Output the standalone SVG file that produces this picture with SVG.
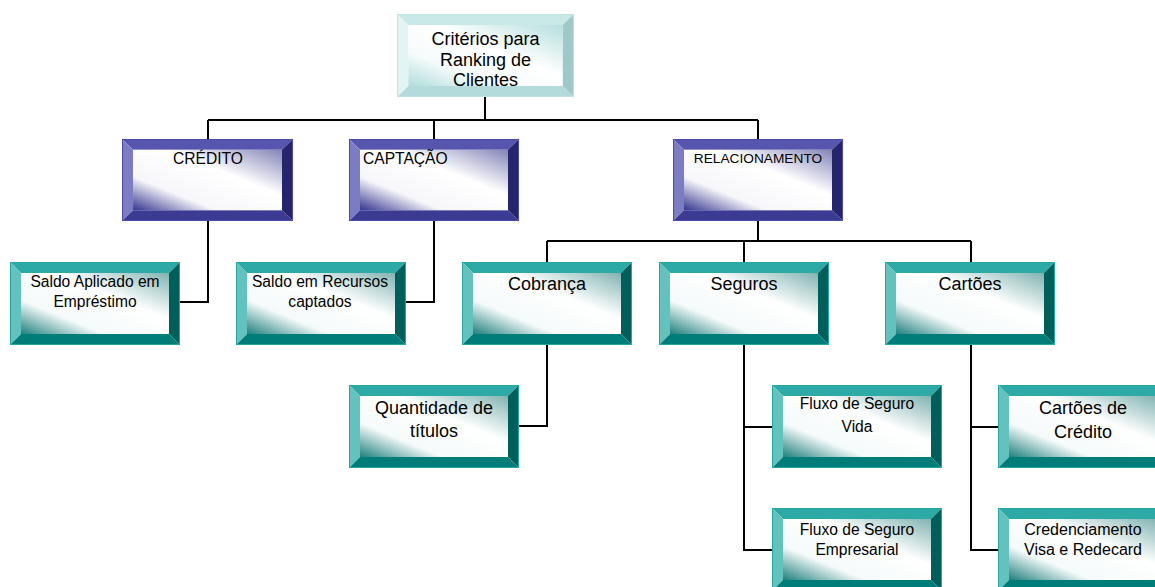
<svg xmlns="http://www.w3.org/2000/svg" xmlns:xlink="http://www.w3.org/1999/xlink" width="1155" height="587" viewBox="0 0 1155 587">
  <style>
    text { font-family: "Liberation Sans", Arial, sans-serif; fill: #000; text-anchor: middle; }
    .t18 { font-size: 18px; }
    .t16 { font-size: 16px; }
    .t155 { font-size: 15.6px; }
    .t14 { font-size: 13.7px; }
    .wire { fill: none; stroke: #000; stroke-width: 2; }
  </style>
  <defs>
    <!-- inner face shading: tinted corners, white diagonal band -->
    <linearGradient id="gBlue" x1="1" y1="0" x2="0" y2="1">
      <stop offset="0" stop-color="#8484b8"/>
      <stop offset="0.38" stop-color="#ffffff"/>
      <stop offset="0.72" stop-color="#f7f7fb"/>
      <stop offset="1" stop-color="#34348f"/>
    </linearGradient>
    <linearGradient id="gTeal" x1="1" y1="0" x2="0" y2="1">
      <stop offset="0" stop-color="#80b3b1"/>
      <stop offset="0.38" stop-color="#ffffff"/>
      <stop offset="0.72" stop-color="#f5fafa"/>
      <stop offset="1" stop-color="#1e807d"/>
    </linearGradient>
    <linearGradient id="gCyan" x1="1" y1="0" x2="0" y2="1">
      <stop offset="0" stop-color="#b6dede"/>
      <stop offset="0.42" stop-color="#ffffff"/>
      <stop offset="0.72" stop-color="#f6fbfb"/>
      <stop offset="1" stop-color="#b0dcdc"/>
    </linearGradient>

    <!-- bevelled boxes, 170x83 frame with 11px bevel -->
    <symbol id="boxBlue" viewBox="0 0 170 83" preserveAspectRatio="none">
      <polygon points="0,0 170,0 159,11 11,11" fill="#5656ae"/>
      <polygon points="0,0 11,11 11,72 0,83" fill="#7c7cc2"/>
      <polygon points="170,0 170,83 159,72 159,11" fill="#25256e"/>
      <polygon points="0,83 11,72 159,72 170,83" fill="#3b3b94"/>
      <rect x="11" y="11" width="148" height="61" fill="url(#gBlue)"/>
      <rect x="0.5" y="0.5" width="169" height="82" fill="none" stroke="#4a4aa8" stroke-width="1"/>
    </symbol>
    <symbol id="boxTeal" viewBox="0 0 170 83" preserveAspectRatio="none">
      <polygon points="0,0 170,0 159,11 11,11" fill="#2eaaa6"/>
      <polygon points="0,0 11,11 11,72 0,83" fill="#64c2be"/>
      <polygon points="170,0 170,83 159,72 159,11" fill="#005e5b"/>
      <polygon points="0,83 11,72 159,72 170,83" fill="#007d79"/>
      <rect x="11" y="11" width="148" height="61" fill="url(#gTeal)"/>
      <rect x="0.5" y="0.5" width="169" height="82" fill="none" stroke="#22a8a4" stroke-width="1"/>
    </symbol>
    <symbol id="boxCyan" viewBox="0 0 170 83" preserveAspectRatio="none">
      <polygon points="0,0 170,0 159,11 11,11" fill="#c9e9e9"/>
      <polygon points="0,0 11,11 11,72 0,83" fill="#e2f4f4"/>
      <polygon points="170,0 170,83 159,72 159,11" fill="#9fc9c9"/>
      <polygon points="0,83 11,72 159,72 170,83" fill="#b3dbdb"/>
      <rect x="11" y="11" width="148" height="61" fill="url(#gCyan)"/>
      <rect x="0.5" y="0.5" width="169" height="82" fill="none" stroke="#bfe2e2" stroke-width="1"/>
    </symbol>
  </defs>

  <rect width="1155" height="587" fill="#ffffff"/>

  <!-- connectors -->
  <g id="connectors" class="wire">
    <path d="M485,97 V120"/>
    <path d="M208,120 H758"/>
    <path d="M208,120 V139 M434,120 V139 M758,120 V139"/>
    <path d="M208,221 V302 H180"/>
    <path d="M434,221 V302 H406"/>
    <path d="M758,221 V241"/>
    <path d="M547,241 H971"/>
    <path d="M547,241 V262 M744,241 V262 M971,241 V262"/>
    <path d="M547,345 V426 H519"/>
    <path d="M744,345 V550 H772 M744,427 H772"/>
    <path d="M971,345 V550 H998 M971,427 H998"/>
  </g>

  <!-- root -->
  <g id="node-criterios">
    <use xlink:href="#boxCyan" x="397" y="14" width="177" height="83"/>
    <text class="t18" x="485.5" y="45">Critérios para</text>
    <text class="t18" x="485.5" y="66">Ranking de</text>
    <text class="t18" x="485.5" y="86">Clientes</text>
  </g>

  <!-- first level -->
  <g id="node-credito">
    <use xlink:href="#boxBlue" x="122" y="139" width="171" height="82"/>
    <text class="t155" x="208" y="164">CRÉDITO</text>
  </g>
  <g id="node-captacao">
    <use xlink:href="#boxBlue" x="349" y="139" width="170" height="82"/>
    <text class="t155" x="363" y="164" style="text-anchor:start">CAPTAÇÃO</text>
  </g>
  <g id="node-relacionamento">
    <use xlink:href="#boxBlue" x="673" y="139" width="170" height="82"/>
    <text class="t14" x="758" y="163">RELACIONAMENTO</text>
  </g>

  <!-- second level -->
  <g id="node-saldo-aplicado">
    <use xlink:href="#boxTeal" x="10" y="262" width="170" height="83"/>
    <text class="t155" x="95" y="287">Saldo Aplicado em</text>
    <text class="t155" x="95" y="307">Empréstimo</text>
  </g>
  <g id="node-saldo-recursos">
    <use xlink:href="#boxTeal" x="236" y="262" width="170" height="83"/>
    <text class="t155" x="320" y="287">Saldo em Recursos</text>
    <text class="t155" x="320" y="307">captados</text>
  </g>
  <g id="node-cobranca">
    <use xlink:href="#boxTeal" x="462" y="262" width="170" height="83"/>
    <text class="t18" x="547" y="290">Cobrança</text>
  </g>
  <g id="node-seguros">
    <use xlink:href="#boxTeal" x="659" y="262" width="170" height="83"/>
    <text class="t18" x="744" y="290">Seguros</text>
  </g>
  <g id="node-cartoes">
    <use xlink:href="#boxTeal" x="885" y="262" width="170" height="83"/>
    <text class="t18" x="970" y="290">Cartões</text>
  </g>

  <!-- third level -->
  <g id="node-quantidade">
    <use xlink:href="#boxTeal" x="349" y="385" width="170" height="83"/>
    <text class="t18" x="434" y="414">Quantidade de</text>
    <text class="t18" x="434" y="437">títulos</text>
  </g>
  <g id="node-seguro-vida">
    <use xlink:href="#boxTeal" x="772" y="385" width="170" height="83"/>
    <text class="t155" x="857" y="409">Fluxo de Seguro</text>
    <text class="t155" x="857" y="432">Vida</text>
  </g>
  <g id="node-seguro-empresarial">
    <use xlink:href="#boxTeal" x="772" y="508" width="170" height="83"/>
    <text class="t155" x="857" y="535">Fluxo de Seguro</text>
    <text class="t155" x="857" y="555">Empresarial</text>
  </g>
  <g id="node-cartoes-credito">
    <use xlink:href="#boxTeal" x="998" y="385" width="170" height="83"/>
    <text class="t18" x="1083" y="414">Cartões de</text>
    <text class="t18" x="1083" y="438">Crédito</text>
  </g>
  <g id="node-credenciamento">
    <use xlink:href="#boxTeal" x="998" y="508" width="170" height="83"/>
    <text class="t16" x="1083" y="535">Credenciamento</text>
    <text class="t16" x="1083" y="555">Visa e Redecard</text>
  </g>
</svg>
